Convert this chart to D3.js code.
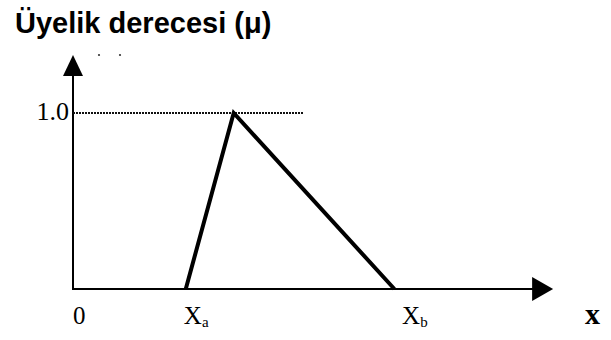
<!DOCTYPE html>
<html>
<head>
<meta charset="utf-8">
<script src="https://cdn.jsdelivr.net/npm/d3@7"></script>
<style>
  html, body { margin: 0; padding: 0; background: #fff; }
  svg { display: block; }
</style>
</head>
<body>
<svg id="chart" width="611" height="340"></svg>
<script>
// Triangular membership function: mu rises from Xa to the peak, falls to Xb.
const xPoints = [23.3, 33.2, 66.4];
const muPoints = [0, 1, 0];
const tickLabels = ["0", "X", "X", "x"];
const tickSubs = ["", "a", "b", ""];
const tickPositions = [0, 22.9, 68.0, 105.8];
const muTick = [1.0];
const muTickLabel = ["1.0"];
const guideEnd = 47.6;
const xAxisEnd = 99.2;
const muAxisEnd = 1.33;
const title = "Üyelik derecesi (μ)";

const svg = d3.select("#chart");
const x = d3.scaleLinear().domain([0, 100]).range([73, 557]);
const y = d3.scaleLinear().domain([0, 1]).range([289, 113]);

// Title
svg.append("text")
  .attr("x", 15).attr("y", 33)
  .attr("font-family", "Liberation Sans, Arial, sans-serif")
  .attr("font-weight", "bold")
  .attr("font-size", 29)
  .attr("fill", "#000")
  .text(title);

// Faint marks under the title
[99, 120].forEach(px => {
  svg.append("circle").attr("cx", px).attr("cy", 55).attr("r", 1.1).attr("fill", "#333");
});

// Axis lines
svg.append("line")
  .attr("x1", x(0)).attr("y1", y(0) + 1)
  .attr("x2", x(0)).attr("y2", y(muAxisEnd) + 18)
  .attr("stroke", "#000").attr("stroke-width", 2);
svg.append("line")
  .attr("x1", x(0) - 1).attr("y1", y(0))
  .attr("x2", x(xAxisEnd) - 18).attr("y2", y(0))
  .attr("stroke", "#000").attr("stroke-width", 2.2);

// Arrow heads
const yTip = [x(0), y(muAxisEnd)];
svg.append("path")
  .attr("d", `M${yTip[0]},${yTip[1]} L${yTip[0] + 10},${yTip[1] + 21} L${yTip[0] - 10},${yTip[1] + 21} Z`)
  .attr("fill", "#000");
const xTip = [x(xAxisEnd), y(0)];
svg.append("path")
  .attr("d", `M${xTip[0]},${xTip[1]} L${xTip[0] - 21},${xTip[1] - 12} L${xTip[0] - 21},${xTip[1] + 12} Z`)
  .attr("fill", "#000");

// Dotted guide at mu = 1.0
svg.append("line")
  .attr("x1", x(0)).attr("y1", y(muTick[0]))
  .attr("x2", x(guideEnd)).attr("y2", y(muTick[0]))
  .attr("stroke", "#111").attr("stroke-width", 2)
  .attr("stroke-dasharray", "2,1");

// Membership triangle
const line = d3.line().x((d, i) => x(xPoints[i])).y((d, i) => y(muPoints[i]));
svg.append("path")
  .datum(xPoints)
  .attr("d", line)
  .attr("fill", "none")
  .attr("stroke", "#000")
  .attr("stroke-width", 4)
  .attr("stroke-linejoin", "miter");

// Tick labels (serif)
const serif = "Liberation Serif, Times New Roman, serif";
svg.append("text")
  .attr("x", x(0) - 4).attr("y", y(muTick[0]) + 7)
  .attr("text-anchor", "end")
  .attr("font-family", serif).attr("font-size", 26)
  .text(muTickLabel[0]);

tickLabels.forEach((t, i) => {
  const txt = svg.append("text")
    .attr("x", x(tickPositions[i]))
    .attr("y", 324)
    .attr("font-family", serif)
    .attr("font-size", i === 3 ? 30 : 25)
    .attr("font-weight", i === 3 ? "bold" : "normal")
    .attr("fill", "#000");
  txt.append("tspan").text(t);
  if (tickSubs[i]) {
    txt.append("tspan").attr("font-size", 15).attr("dy", 3).text(tickSubs[i]);
  }
});
</script>
</body>
</html>
